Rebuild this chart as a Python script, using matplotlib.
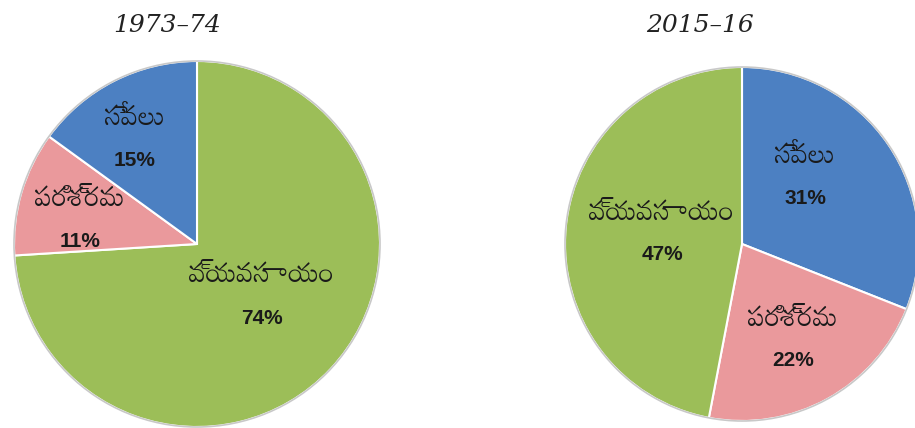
import matplotlib
matplotlib.use("Agg")
import matplotlib.pyplot as plt
from matplotlib.patches import Circle

# data
sectors = ["సేవలు", "పరిశ్రమ", "వ్యవసాయం"]
share_1973 = [15, 11, 74]
share_2015 = [31, 22, 47]
years = ["1973–74", "2015–16"]
colors = ["#4C80C2", "#EA999C", "#9CBE58"]

TEL = ["Mandali", "Noto Sans Telugu", "DejaVu Sans"]
H = 428

fig = plt.figure(figsize=(9.15, 4.28), dpi=100)
ax = fig.add_axes([0, 0, 1, 1])

# left pie: clockwise from top -> agriculture, industry, services
ax.pie(share_1973[::-1], colors=colors[::-1], startangle=90, counterclock=False,
       center=(197, H - 244), radius=183, frame=True,
       wedgeprops=dict(edgecolor="white", linewidth=1.5))
# right pie: clockwise from top -> services, industry, agriculture
ax.pie(share_2015, colors=colors, startangle=90, counterclock=False,
       center=(742, H - 244), radius=177, frame=True,
       wedgeprops=dict(edgecolor="white", linewidth=1.5))
# faint rim like the original
for c, r in [((197, H - 244), 183), ((742, H - 244), 177)]:
    ax.add_patch(Circle(c, r, fill=False, edgecolor="#c8c8c8", linewidth=1.2))

ax.set_xlim(0, 915)
ax.set_ylim(0, H)
ax.set_aspect("equal")
ax.axis("off")

def lab(x, y, name, pct):
    ax.text(x, H - y, name, ha="center", va="center", fontsize=20, family=TEL,
            color="#1a1a1a")
    ax.text(x, H - y - 43, f"{pct}%", ha="center", va="center", fontsize=15,
            family="Liberation Sans", weight="bold", color="#1a1a1a")

lab(135, 117, sectors[0], share_1973[0])
lab(80, 198, sectors[1], share_1973[1])
lab(262, 275, sectors[2], share_1973[2])
lab(805, 155, sectors[0], share_2015[0])
lab(793, 318, sectors[1], share_2015[1])
lab(662, 212, sectors[2], share_2015[2])

ax.text(167, H - 25, years[0], ha="center", va="center", fontsize=18,
        family="DejaVu Serif", style="italic", color="#222222")
ax.text(700, H - 25, years[1], ha="center", va="center", fontsize=18,
        family="DejaVu Serif", style="italic", color="#222222")

fig.savefig("out.png")
